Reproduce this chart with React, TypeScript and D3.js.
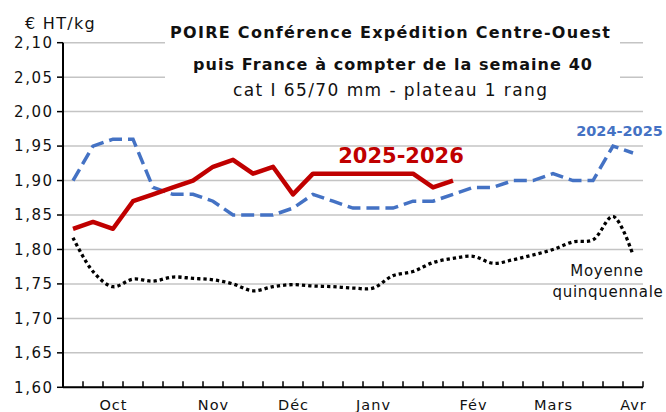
import React from "react";
import * as d3 from "d3";

const weeks = [38,39,40,41,42,43,44,45,46,47,48,49,50,51,52,1,2,3,4,5,6,7,8,9,10,11,12,13,14];
const monthLabels: { idx: number; label: string }[] = [
  { idx: 2, label: "Oct" },
  { idx: 7, label: "Nov" },
  { idx: 11, label: "Déc" },
  { idx: 15, label: "Janv" },
  { idx: 20, label: "Fév" },
  { idx: 24, label: "Mars" },
  { idx: 28, label: "Avr" },
];
const s2025_2026 = [1.83,1.84,1.83,1.87,1.88,1.89,1.90,1.92,1.93,1.91,1.92,1.88,1.91,1.91,1.91,1.91,1.91,1.91,1.89,1.90];
const s2024_2025 = [1.90,1.95,1.96,1.96,1.89,1.88,1.88,1.87,1.85,1.85,1.85,1.86,1.88,1.87,1.86,1.86,1.86,1.87,1.87,1.88,1.89,1.89,1.90,1.90,1.91,1.90,1.90,1.95,1.94];
const moyenne = [1.817,1.768,1.746,1.757,1.754,1.760,1.758,1.756,1.750,1.740,1.746,1.749,1.747,1.746,1.744,1.744,1.762,1.768,1.781,1.787,1.790,1.780,1.785,1.792,1.800,1.811,1.814,1.848,1.792];
const yTicks = [1.60,1.65,1.70,1.75,1.80,1.85,1.90,1.95,2.00,2.05,2.10];

const W = 666, H = 412;
const left = 63, right = 643, top = 42.7, bottom = 387.3;
const FONT = "'DejaVu Sans', sans-serif";

export default function App() {
  const x = d3.scaleBand<number>().domain(d3.range(weeks.length)).range([left, right]).paddingInner(0).paddingOuter(0);
  const y = d3.scaleLinear().domain([1.6, 2.1]).range([bottom, top]);
  const cx = (i: number) => (x(i) as number) + x.bandwidth() / 2;
  const lineStraight = d3.line<number>().x((_, i) => cx(i)).y((d) => y(d));
  const lineSmooth = d3.line<number>().x((_, i) => cx(i)).y((d) => y(d)).curve(d3.curveCatmullRom.alpha(0.5));
  const boundaries = d3.range(1, weeks.length + 1).map((i) => left + i * x.bandwidth());

  return (
    <div style={{ position: "absolute", left: 0, top: 0, width: W, height: H, overflow: "hidden", background: "#fff" }}>
      <svg width={W} height={H} style={{ display: "block", fontFamily: FONT }}>
        <rect width={W} height={H} fill="#fff" />
        {yTicks.map((t) => (
          <line key={"g" + t} x1={left} x2={right} y1={y(t)} y2={y(t)} stroke="#c4c4c4" strokeWidth={1.5} />
        ))}
        <rect x={165} y={18} width={455} height={86} fill="#fff" />
        {yTicks.map((t) => (
          <g key={"t" + t}>
            <line x1={57} x2={left} y1={y(t)} y2={y(t)} stroke="#000" strokeWidth={1.5} />
            <text x={53.5} y={y(t)} dy="0.36em" textAnchor="end" fontSize={15} letterSpacing={1.5} fill="#111">
              {d3.format(".2f")(t).replace(".", ",")}
            </text>
          </g>
        ))}
        <text x={25} y={29} fontSize={16} letterSpacing={1.3} fill="#111">€ HT/kg</text>
        {boundaries.map((b, i) => (
          <line key={"b" + i} x1={b} x2={b} y1={bottom} y2={bottom - 6} stroke="#000" strokeWidth={1.5} />
        ))}
        {monthLabels.map((m) => (
          <text key={m.label} x={cx(m.idx) + 0.5} y={410} textAnchor="middle" fontSize={14.5} letterSpacing={1} fill="#111">{m.label}</text>
        ))}
        <path d={lineStraight(s2024_2025) || ""} fill="none" stroke="#4472c4" strokeWidth={3.5} strokeDasharray="13 6" />
        <path d={lineSmooth(moyenne) || ""} fill="none" stroke="#000" strokeWidth={3.3} strokeDasharray="3.3 3" />
        <path d={lineStraight(s2025_2026) || ""} fill="none" stroke="#c00000" strokeWidth={4.5} strokeLinejoin="round" />
        <line x1={left} x2={left} y1={top} y2={bottom} stroke="#000" strokeWidth={2} />
        <line x1={left} x2={right} y1={bottom} y2={bottom} stroke="#000" strokeWidth={2} />
        <text x={390} y={38} textAnchor="middle" fontSize={16} fontWeight="bold" textLength={440} fill="#111">POIRE Conférence Expédition Centre-Ouest</text>
        <text x={392.5} y={70} textAnchor="middle" fontSize={16} fontWeight="bold" textLength={399} fill="#111">puis France à compter de la semaine 40</text>
        <text x={390} y={96} textAnchor="middle" fontSize={17} textLength={314} fill="#111">cat I 65/70 mm - plateau 1 rang</text>
        <text x={401} y={162.5} textAnchor="middle" fontSize={21} fontWeight="bold" fill="#c00000">2025-2026</text>
        <text x={619.5} y={136} textAnchor="middle" fontSize={14.5} fontWeight="bold" fill="#4472c4">2024-2025</text>
        <text x={607} y={276} textAnchor="middle" fontSize={15} letterSpacing={0.7} fill="#111">Moyenne</text>
        <text x={608} y={297} textAnchor="middle" fontSize={15} letterSpacing={0.7} fill="#111">quinquennale</text>
      </svg>
    </div>
  );
}
